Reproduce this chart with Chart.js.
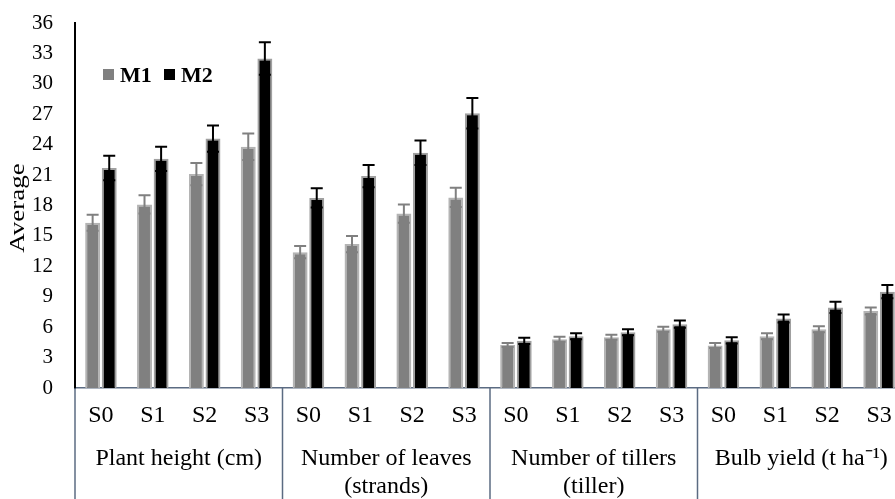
<!DOCTYPE html>
<html>
<head>
<meta charset="utf-8">
<script src="https://cdn.jsdelivr.net/npm/chart.js@4.4.1/dist/chart.umd.min.js"></script>
<style>
  html, body { margin: 0; padding: 0; background: #fff; overflow: hidden; }
  #wrap { width: 895px; height: 499px; overflow: hidden; }
</style>
</head>
<body>
<div id="wrap"><canvas id="myChart" width="910" height="499"></canvas></div>
<script>
const treatments = ['S0', 'S1', 'S2', 'S3'];
const groups = [
    ['Plant height (cm)'],
    ['Number of leaves', '(strands)'],
    ['Number of tillers', '(tiller)'],
    ['Bulb yield (t ha\u207B\u00B9)']
];

const m1 = [16.3, 18.1, 21.1, 23.8, 13.4, 14.2, 17.2, 18.8, 4.25, 4.8, 5.0, 5.8, 4.2, 5.1, 5.8, 7.6];
const m1Err = [0.8, 0.9, 1.1, 1.3, 0.6, 0.8, 0.9, 0.95, 0.2, 0.25, 0.25, 0.25, 0.25, 0.3, 0.3, 0.35];
const m2 = [21.7, 22.6, 24.6, 32.5, 18.75, 20.9, 23.2, 27.1, 4.65, 5.1, 5.5, 6.3, 4.7, 6.85, 7.95, 9.5];
const m2Err = [1.2, 1.2, 1.3, 1.6, 0.95, 1.1, 1.2, 1.5, 0.3, 0.3, 0.3, 0.35, 0.3, 0.4, 0.55, 0.65];

const labels = [];
groups.forEach(() => treatments.forEach(t => labels.push(t)));

const FONT = '"Liberation Serif", "Times New Roman", serif';
const SLATE = '#5b6b82';

// error bars drawn on top of each bar
const errorBars = {
    id: 'errorBars',
    afterDatasetsDraw(chart){
        const ctx = chart.ctx;
        const y = chart.scales.y;
        chart.data.datasets.forEach((ds, i) => {
            const meta = chart.getDatasetMeta(i);
            meta.data.forEach((bar, j) => {
                const v = ds.data[j], e = ds.errors[j];
                const top = y.getPixelForValue(v + e);
                const low = y.getPixelForValue(v - e);
                ctx.save();
                ctx.strokeStyle = ds.errorColor;
                ctx.lineWidth = 2;
                ctx.beginPath();
                ctx.moveTo(bar.x, top); ctx.lineTo(bar.x, low);
                ctx.moveTo(bar.x - 6, top); ctx.lineTo(bar.x + 6, top);
                ctx.moveTo(bar.x - 6, low); ctx.lineTo(bar.x + 6, low);
                ctx.stroke();
                ctx.restore();
            });
        });
    }
};

// group labels, separators, axis title and legend
const extras = {
    id: 'extras',
    afterDraw(chart){
        const ctx = chart.ctx;
        const area = chart.chartArea;
        const n = treatments.length;
        const step = (area.right - area.left) / labels.length;
        ctx.save();
        ctx.strokeStyle = SLATE;
        ctx.lineWidth = 1.5;
        for (let g = 0; g <= groups.length; g++){
            const px = area.left + g * n * step;
            ctx.beginPath();
            ctx.moveTo(px, area.bottom);
            ctx.lineTo(px, chart.height);
            ctx.stroke();
        }
        ctx.fillStyle = '#000';
        ctx.font = '24px ' + FONT;
        ctx.textAlign = 'center';
        ctx.textBaseline = 'alphabetic';
        groups.forEach((lines, g) => {
            const cx = area.left + (g * n + n / 2) * step;
            lines.forEach((t, k) => ctx.fillText(t, cx, 465 + k * 27.5));
        });

        // y axis title (text is a bit stretched in the original)
        ctx.save();
        ctx.translate(19, 208);
        ctx.rotate(-Math.PI / 2);
        ctx.scale(1.35, 1);
        ctx.font = '20px ' + FONT;
        ctx.textBaseline = 'middle';
        ctx.fillText('Average', 0, 0);
        ctx.restore();

        // legend
        const items = [['M1', '#808080', 103], ['M2', '#000000', 164]];
        ctx.font = 'bold 22px ' + FONT;
        ctx.textAlign = 'left';
        ctx.textBaseline = 'alphabetic';
        items.forEach(([t, c, lx]) => {
            ctx.fillStyle = c;
            ctx.fillRect(lx, 69, 11, 11);
            ctx.fillStyle = '#000';
            ctx.fillText(t, lx + 17, 82);
        });
        ctx.restore();
    }
};

const ctx = document.getElementById('myChart').getContext('2d');
new Chart(ctx, {
    type: 'bar',
    data: {
        labels: labels,
        datasets: [
            {
                label: 'M1',
                data: m1,
                errors: m1Err,
                errorColor: '#808080',
                backgroundColor: '#808080',
                borderColor: '#b4b4b4',
                borderWidth: 2
            },
            {
                label: 'M2',
                data: m2,
                errors: m2Err,
                errorColor: '#000000',
                backgroundColor: '#000000',
                borderColor: '#a0a0a0',
                borderWidth: 2
            }
        ]
    },
    options: {
        responsive: false,
        animation: false,
        devicePixelRatio: 1,
        layout: { padding: { top: 23, right: 5, left: 0, bottom: 0 } },
        datasets: { bar: { categoryPercentage: 0.64, barPercentage: 0.9 } },
        plugins: {
            legend: { display: false },
            tooltip: { enabled: false }
        },
        scales: {
            x: {
                grid: { display: false, drawTicks: false },
                border: { color: SLATE, width: 1.5 },
                ticks: {
                    autoSkip: false, maxRotation: 0, padding: 13, color: '#000',
                    font: { family: FONT, size: 24 }
                },
                afterFit(scale){
                    scale.height = 111;
                    scale.paddingLeft = 0;
                    scale.paddingRight = 0;
                }
            },
            y: {
                min: 0, max: 36,
                grid: { display: false, drawTicks: false },
                border: { color: '#000', width: 2 },
                ticks: {
                    stepSize: 3, padding: 22, color: '#000',
                    font: { family: FONT, size: 21 }
                },
                afterFit(scale){
                    scale.width = 75;
                    scale.paddingTop = 0;
                    scale.paddingBottom = 0;
                }
            }
        }
    },
    plugins: [errorBars, extras]
});
</script>
</body>
</html>
